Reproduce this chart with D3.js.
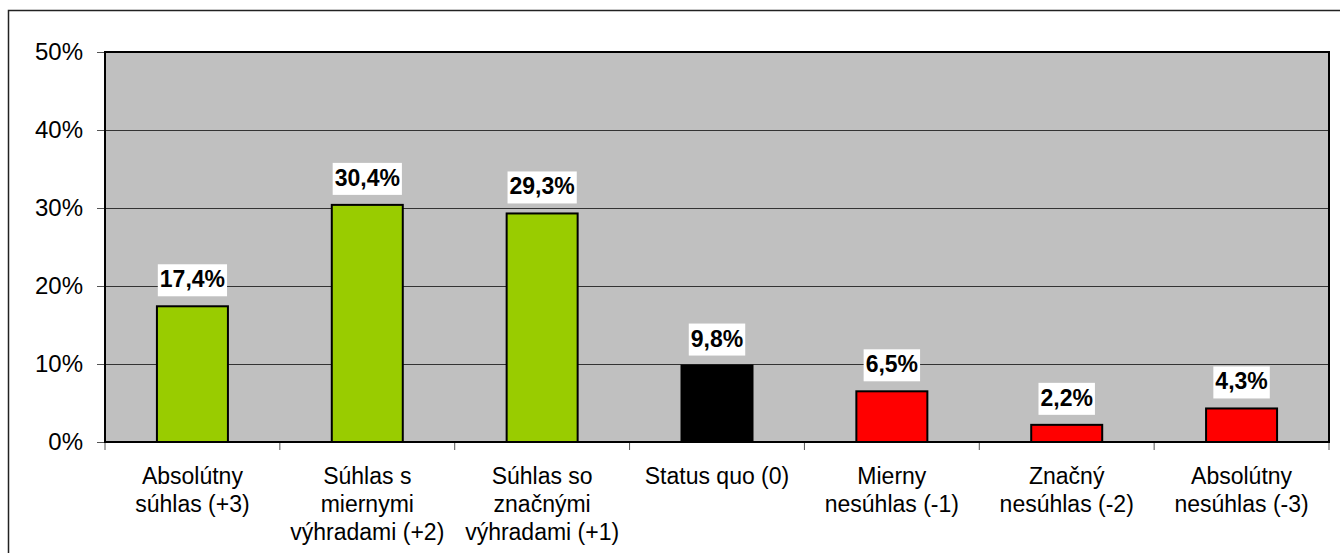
<!DOCTYPE html>
<html>
<head>
    <meta charset="utf-8" />
    <title>Chart</title>
    <script src="https://cdn.jsdelivr.net/npm/d3@7"></script>
    <style>
        body { margin: 0; background: #fff; }
        svg { display: block; font-family: "Liberation Sans", Arial, sans-serif; }
    </style>
</head>
<body>
    <svg id="chart" width="1340" height="553"></svg>
    <script>
        // categories (wrapped like the original) and values in percent
        const categories = [
            ['Absolútny', 'súhlas (+3)'],
            ['Súhlas s', 'miernymi', 'výhradami (+2)'],
            ['Súhlas so', 'značnými', 'výhradami (+1)'],
            ['Status quo (0)'],
            ['Mierny', 'nesúhlas (-1)'],
            ['Značný', 'nesúhlas (-2)'],
            ['Absolútny', 'nesúhlas (-3)']
        ];
        const values = [17.4, 30.4, 29.3, 9.8, 6.5, 2.2, 4.3];
        const barColors = ['#99cc00', '#99cc00', '#99cc00', '#000000', '#ff0000', '#ff0000', '#ff0000'];
        const yTicks = [0, 10, 20, 30, 40, 50];

        const plotL = 105, plotR = 1329, plotT = 52, plotB = 442;
        const svg = d3.select('#chart');

        // outer chart border
        svg.append('rect')
            .attr('x', 8.5).attr('y', 10.5)
            .attr('width', 1400).attr('height', 600)
            .attr('fill', 'none').attr('stroke', '#222').attr('stroke-width', 1.5);

        const x = d3.scaleBand()
            .domain(d3.range(values.length))
            .range([plotL, plotR])
            .paddingInner(0).paddingOuter(0);
        const y = d3.scaleLinear().domain([0, 50]).range([plotB, plotT]);

        // plot background
        svg.append('rect')
            .attr('x', plotL).attr('y', plotT)
            .attr('width', plotR - plotL).attr('height', plotB - plotT)
            .attr('fill', '#c0c0c0');

        // gridlines
        svg.append('g')
            .selectAll('line')
            .data(yTicks.slice(1, -1))
            .enter().append('line')
            .attr('x1', plotL).attr('x2', plotR)
            .attr('y1', d => y(d) + 0.5).attr('y2', d => y(d) + 0.5)
            .attr('stroke', '#333').attr('stroke-width', 1);

        // y axis
        const yAxis = svg.append('g')
            .attr('transform', `translate(${plotL},0)`)
            .call(d3.axisLeft(y).tickValues(yTicks).tickSize(8).tickPadding(14).tickFormat(d => d + '%'));
        yAxis.select('.domain').remove();
        yAxis.selectAll('line').attr('stroke', '#555');
        yAxis.selectAll('text').attr('font-size', 24).attr('fill', '#000')
            .attr('font-family', '"Liberation Sans", Arial, sans-serif');

        // x axis ticks at band edges
        const edges = d3.range(values.length + 1).map(i => plotL + i * x.bandwidth());
        svg.append('g')
            .selectAll('line')
            .data(edges)
            .enter().append('line')
            .attr('x1', d => d).attr('x2', d => d)
            .attr('y1', plotB).attr('y2', plotB + 8)
            .attr('stroke', '#555').attr('stroke-width', 1);

        // category labels
        svg.append('g')
            .selectAll('text')
            .data(categories)
            .enter().append('text')
            .attr('text-anchor', 'middle')
            .attr('font-size', 23)
            .attr('fill', '#000')
            .each(function(d, i) {
                d3.select(this).selectAll('tspan')
                    .data(d)
                    .enter().append('tspan')
                    .attr('x', x(i) + x.bandwidth() / 2)
                    .attr('y', (t, j) => 484 + j * 28)
                    .text(t => t);
            });

        // bars
        const bw = 71;
        svg.append('g')
            .selectAll('rect')
            .data(values)
            .enter().append('rect')
            .attr('x', (d, i) => x(i) + x.bandwidth() / 2 - bw / 2)
            .attr('y', d => y(d))
            .attr('width', bw)
            .attr('height', d => plotB - y(d))
            .attr('fill', (d, i) => barColors[i])
            .attr('stroke', '#000').attr('stroke-width', 2);

        // plot frame
        svg.append('rect')
            .attr('x', plotL).attr('y', plotT)
            .attr('width', plotR - plotL).attr('height', plotB - plotT)
            .attr('fill', 'none').attr('stroke', '#000').attr('stroke-width', 2);

        // value labels on white boxes
        const fmt = d => d.toFixed(1).replace('.', ',') + '%';
        const lbl = svg.append('g')
            .selectAll('g')
            .data(values)
            .enter().append('g');
        lbl.append('text')
            .attr('x', (d, i) => x(i) + x.bandwidth() / 2)
            .attr('y', d => y(d) - 19)
            .attr('text-anchor', 'middle')
            .attr('font-size', 23)
            .attr('font-weight', 'bold')
            .attr('fill', '#000')
            .text(fmt);
        lbl.each(function() {
            const t = d3.select(this).select('text');
            const b = t.node().getBBox();
            d3.select(this).insert('rect', 'text')
                .attr('x', b.x - 2).attr('y', d => y(d) - 42)
                .attr('width', b.width + 4).attr('height', 32)
                .attr('fill', '#fff');
        });
    </script>
</body>
</html>
